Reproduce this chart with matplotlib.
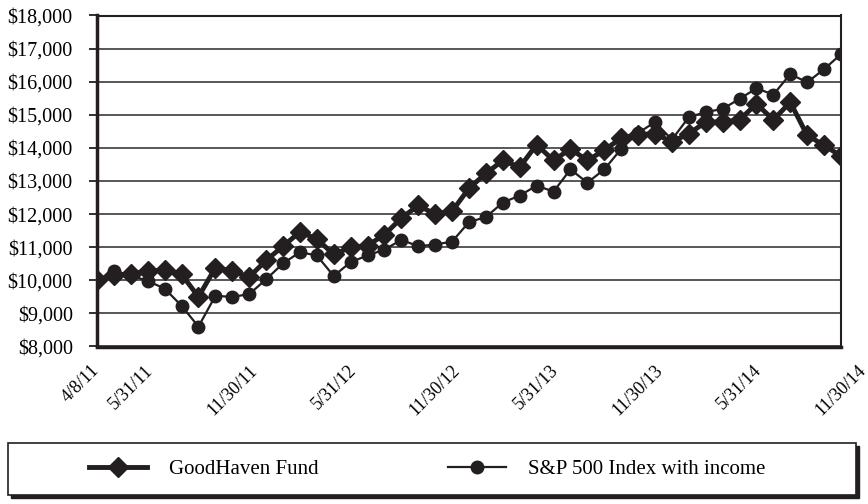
import numpy as np
import matplotlib
matplotlib.use("Agg")
import matplotlib.pyplot as plt
import matplotlib.transforms as mtransforms
from matplotlib.patches import Rectangle
from matplotlib.lines import Line2D

plt.rcParams['font.family'] = ['Liberation Serif', 'DejaVu Serif']

# Monthly values, 4/8/11 .. 11/30/14 (45 points)
goodhaven = [10000, 10150, 10200, 10280, 10300, 10180, 9500, 10380, 10280, 10100,
             10600, 11030, 11460, 11250, 10780, 11000, 11050, 11380, 11880, 12260,
             12000, 12090, 12780, 13230, 13620, 13420, 14100, 13620, 13970, 13620,
             13930, 14300, 14400, 14430, 14180, 14430, 14780, 14780, 14850, 15330,
             14850, 15380, 14380, 14080, 13750]
sp500 = [10000, 10280, 10150, 9980, 9750, 9230, 8600, 9530, 9500, 9580,
         10030, 10510, 10850, 10750, 10130, 10550, 10750, 10930, 11220, 11030,
         11080, 11170, 11760, 11910, 12350, 12560, 12860, 12680, 13350, 12950,
         13350, 13970, 14450, 14780, 14250, 14930, 15080, 15180, 15480, 15800,
         15610, 16230, 15980, 16380, 16830]
tick_idx = [0, 2, 8, 14, 20, 26, 32, 38, 44]
tick_labels = ['4/8/11', '5/31/11', '11/30/11', '5/31/12', '11/30/12',
               '5/31/13', '11/30/13', '5/31/14', '11/30/14']
yticks = np.arange(8000, 18001, 1000)

ink = '#231f20'
x = np.arange(len(goodhaven))

fig = plt.figure(figsize=(8.68, 5.04), dpi=100)
ax = fig.add_axes([97 / 868, 1 - 346.5 / 504, (841 - 97) / 868, (346.5 - 15.5) / 504])

ax.plot(x, goodhaven, color=ink, lw=3.5, marker='D', markersize=10, zorder=3,
        label='GoodHaven Fund')
ax.plot(x, sp500, color=ink, lw=1.6, marker='o', markersize=9, zorder=4,
        label='S&P 500 Index with income')

ax.set_xlim(0, len(goodhaven) - 1)
ax.set_ylim(8000, 18000)
ax.set_yticks(yticks)
ax.set_yticklabels([f'${v:,.0f}' for v in yticks], fontsize=14.5)
ax.yaxis.grid(True, color='#4a4a4a', lw=1.3)
ax.set_axisbelow(True)
ax.tick_params(axis='y', length=5.5, width=1.3, color=ink, pad=12)

ax.set_xticks(tick_idx)
ax.set_xticklabels(tick_labels, rotation=45, fontsize=13)
ax.tick_params(axis='x', length=0, pad=11)
for i, lab in enumerate(ax.get_xticklabels()):
    if i == 0:
        lab.set_ha('right')
        lab.set_transform(lab.get_transform() +
                          mtransforms.ScaledTranslation(6 / 100, 0, fig.dpi_scale_trans))
    else:
        lab.set_ha('center')

for side in ['left', 'bottom']:
    ax.spines[side].set_linewidth(2.5)
    ax.spines[side].set_color(ink)
for side in ['top', 'right']:
    ax.spines[side].set_linewidth(1.5)
    ax.spines[side].set_color(ink)

# legend box with hard shadow
bx, by, bw, bh = 8 / 868, 1 - 495 / 504, 848 / 868, 52 / 504
fig.add_artist(Rectangle((bx + 3 / 868, by - 3 / 504), bw, bh, transform=fig.transFigure,
                         facecolor=ink, edgecolor=ink, lw=1))
fig.add_artist(Rectangle((bx, by), bw, bh, transform=fig.transFigure,
                         facecolor='white', edgecolor=ink, lw=1.2))

handles = [Line2D([], [], color=ink, lw=3.5, marker='D', markersize=10),
           Line2D([], [], color=ink, lw=1.6, marker='o', markersize=9)]
leg = fig.legend(handles, ['GoodHaven Fund', 'S&P 500 Index with income'],
                 loc='center left', bbox_to_anchor=(89 / 868, 1 - 469 / 504),
                 ncol=2, frameon=False, fontsize=15, borderpad=0, borderaxespad=0,
                 handlelength=2.8, handletextpad=1.05, columnspacing=6.2,
                 numpoints=1)
leg.set_zorder(5)

fig.savefig('out.png', dpi=100)
